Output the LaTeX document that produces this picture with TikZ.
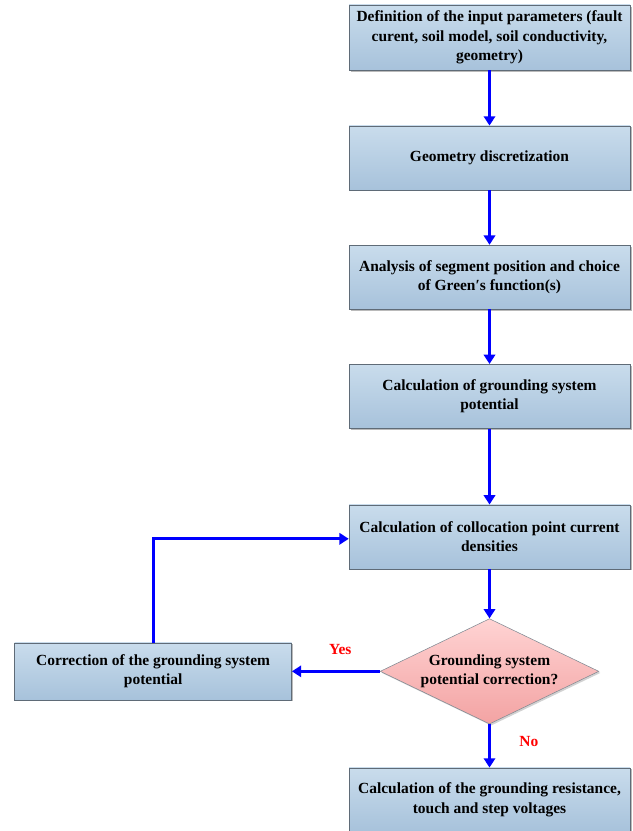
\documentclass[tikz,border=0pt]{standalone}
\usepackage{fontspec}
\setmainfont{Liberation Serif}
\usetikzlibrary{shapes.geometric, arrows.meta, positioning, shadows}
\definecolor{boxtop}{HTML}{C9DCEC}
\definecolor{boxbottom}{HTML}{A7C2DB}
\definecolor{boxline}{HTML}{5F6B77}
\definecolor{dectop}{HTML}{FFD3D3}
\definecolor{decbottom}{HTML}{F3A3A3}
\definecolor{flowblue}{HTML}{0000FF}
\definecolor{answerred}{HTML}{FF0000}
\tikzset{
  stepbox/.style={rectangle, draw=boxline, thin, top color=boxtop, bottom color=boxbottom,
                  minimum width=210.75pt, minimum height=48pt, inner xsep=2pt, align=center,
                  font=\fontsize{11.6}{14.6}\selectfont\bfseries,
                  drop shadow={shadow xshift=1.2pt, shadow yshift=-1.2pt, fill=black!45, opacity=.6}},
  decision/.style={diamond, draw=boxline!80, thin, top color=dectop, bottom color=decbottom,
                   aspect=2.08, inner sep=0pt, minimum width=164pt, minimum height=79pt,
                   align=center, font=\fontsize{11.6}{14.6}\selectfont\bfseries,
                   drop shadow={shadow xshift=1.2pt, shadow yshift=-1.2pt, fill=black!35, opacity=.5}},
  flow/.style={-{Triangle[length=7pt,width=8.5pt]}, line width=2.2pt, draw=flowblue},
  answer/.style={font=\fontsize{11.6}{14}\selectfont\bfseries, text=answerred},
}
\begin{document}
\begin{tikzpicture}[x=0.75pt, y=-0.75pt]
  \useasboundingbox (0,0) rectangle (632,831);

  % --- main column ---
  \node[stepbox, minimum height=48.75pt] (inputs) at (489.5,37.5)
       {Definition of the input parameters (fault\\curent, soil model, soil conductivity,\\geometry)};
  \node[stepbox, below=41.5pt of inputs] (discret) {Geometry discretization};
  \node[stepbox, below=41pt of discret] (green)
       {Analysis of segment position and choice\\of Green′s function(s)};
  \node[stepbox, below=41pt of green] (potential)
       {Calculation of grounding system\\potential};
  \node[stepbox, below=57pt of potential] (densities)
       {Calculation of collocation point current\\densities};
  \node[decision, below=37pt of densities] (check)
       {Grounding system\\potential correction?};
  \node[stepbox, below=32.5pt of check] (voltages)
       {Calculation of the grounding resistance,\\touch and step voltages};

  % --- feedback branch ---
  \node[stepbox, minimum width=207.75pt, minimum height=42.75pt, left=66pt of check] (correct)
       {Correction of the grounding system\\potential};

  % Links
  \draw[flow] (inputs) -- (discret);
  \draw[flow] (discret) -- (green);
  \draw[flow] (green) -- (potential);
  \draw[flow] (potential) -- (densities);
  \draw[flow] (densities) -- (check);
  \draw[flow] (check) -- node[answer, pos=0.4, right=18pt]{No} (voltages);
  \draw[flow] (check) -- node[answer, above=8pt, pos=0.45]{Yes} (correct);
  \draw[flow] (correct.north) |- ([yshift=-1.5pt]densities.west);

\end{tikzpicture}
\end{document}
